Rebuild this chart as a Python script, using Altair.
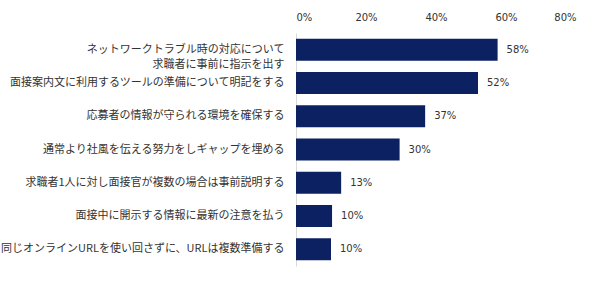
import altair as alt
import pandas as pd

categories = [
    "ネットワークトラブル時の対応について\n求職者に事前に指示を出す",
    "面接案内文に利用するツールの準備について明記をする",
    "応募者の情報が守られる環境を確保する",
    "通常より社風を伝える努力をしギャップを埋める",
    "求職者1人に対し面接官が複数の場合は事前説明する",
    "面接中に開示する情報に最新の注意を払う",
    "同じオンラインURLを使い回さずに、URLは複数準備する",
]
values = [57.6, 52.0, 36.9, 29.6, 12.9, 10.3, 10.0]
labels = ["58%", "52%", "37%", "30%", "13%", "10%", "10%"]
x_ticks = [0, 20, 40, 60, 80]

df = pd.DataFrame({"cat": categories, "val": values, "lab": labels})

FONT = "Noto Sans CJK JP"
NUMFONT = "DejaVu Sans"

x = alt.X(
    "val:Q",
    scale=alt.Scale(domain=[0, 80], nice=False),
    axis=alt.Axis(
        orient="top", values=x_ticks, labelExpr="datum.value + '%'",
        title=None, grid=False, domain=False, ticks=False,
        labelFont=NUMFONT, labelFontSize=10, labelColor="#333333", labelPadding=11,
    ),
)
y = alt.Y(
    "cat:N", sort=categories,
    scale=alt.Scale(paddingInner=0.34, paddingOuter=0.17),
    axis=alt.Axis(
        title=None, ticks=False, domain=True, domainColor="#d9d9d9",
        labelExpr="split(datum.label, '\\n')", labelFont=FONT, labelFontSize=11,
        labelColor="#333333", labelPadding=12, labelLimit=400, labelLineHeight=15,
    ),
)

bars = alt.Chart(df).mark_bar(color="#0b2161").encode(x=x, y=y)
text = alt.Chart(df).mark_text(
    align="left", baseline="middle", dx=9, font=NUMFONT, fontSize=10, color="#333333"
).encode(x="val:Q", y=alt.Y("cat:N", sort=categories), text="lab:N")

chart = (bars + text).properties(
    width=280, height=233,
    autosize=alt.AutoSizeParams(type="none"),
    padding={"left": 296, "top": 33, "right": 28, "bottom": 15},
).configure_view(stroke=None)

chart.save("out.html", embed_options={"renderer": "svg", "actions": False})
